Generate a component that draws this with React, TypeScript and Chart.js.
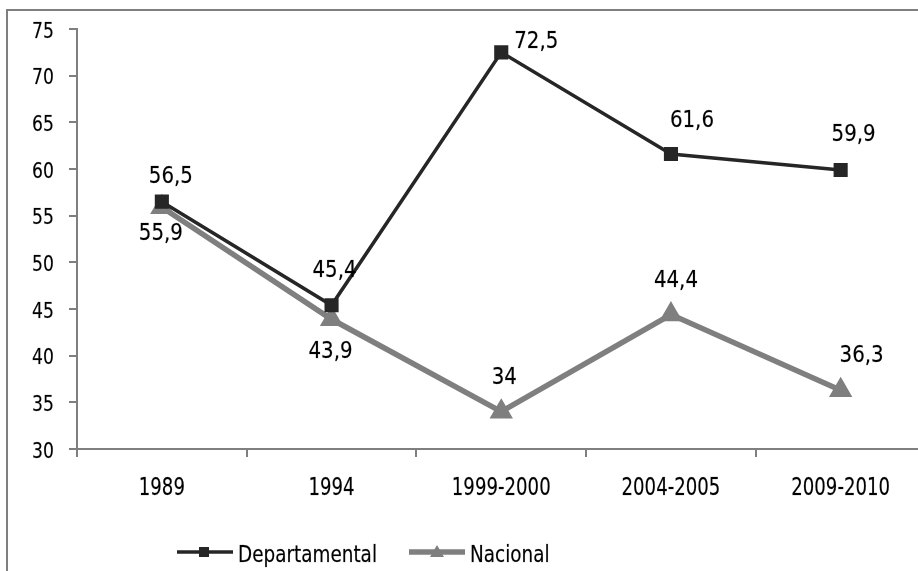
import React, { useEffect, useRef } from "react";
import { Chart, registerables } from "chart.js";

Chart.register(...registerables);

const categories = ["1989", "1994", "1999-2000", "2004-2005", "2009-2010"];
const departamental = [56.5, 45.4, 72.5, 61.6, 59.9];
const nacional = [55.9, 43.9, 34, 44.4, 36.3];
const yTicks = [30, 35, 40, 45, 50, 55, 60, 65, 70, 75];

const DARK = "#262626";
const GRAY = "#7f7f7f";
const SANS = "'DejaVu Sans', sans-serif";

// label offsets (center) relative to each point (style, not data)
const labelOffsets: number[][][] = [
  [[9, -27], [3, -36], [35, -12], [21, -35], [13, -37]],
  [[-1, 25], [-1, 31], [3, -36], [5, -36], [21, -36]],
];

const fmt = (v: number) => String(v).replace(".", ",");

function squeezed(ctx: any, text: string, x: number, y: number, size: number, sx: number, align: string) {
  ctx.save();
  ctx.font = `${size}px ${SANS}`;
  ctx.fillStyle = "#000";
  ctx.strokeStyle = "rgba(0,0,0,0.35)";
  ctx.lineWidth = 0.5;
  ctx.textAlign = align;
  ctx.textBaseline = "alphabetic";
  ctx.translate(x, y);
  ctx.scale(sx, 1);
  ctx.fillText(text, 0, 0);
  ctx.strokeText(text, 0, 0);
  ctx.restore();
}

const textPlugin = {
  id: "textPlugin",
  afterDraw(chart: any) {
    const ctx = chart.ctx;
    // y tick labels
    const ys = chart.scales.y;
    ys.ticks.forEach((t: any) => {
      const py = ys.getPixelForValue(t.value);
      squeezed(ctx, String(t.value), ys.right - 23, py + 8.5, 21.5, 0.8, "right");
    });
    // x tick labels
    const xs = chart.scales.x;
    categories.forEach((c, i) => {
      const px = xs.getPixelForTick(i);
      squeezed(ctx, c, px, xs.top + 46, 24.5, 0.74, "center");
    });
    // value labels
    chart.data.datasets.forEach((ds: any, di: number) => {
      const meta = chart.getDatasetMeta(di);
      meta.data.forEach((pt: any, i: number) => {
        const off = labelOffsets[di][i];
        squeezed(ctx, fmt(ds.data[i]), pt.x + off[0], pt.y + off[1] + 8, 22.5, 0.88, "center");
      });
    });
    // legend
    const y = 552;
    const items = [
      { x: 177, style: "rect", w: 3.5 },
      { x: 409, style: "triangle", w: 5.5 },
    ];
    chart.data.datasets.forEach((ds: any, i: number) => {
      const it = items[i];
      ctx.save();
      ctx.strokeStyle = ds.borderColor;
      ctx.lineWidth = it.w;
      ctx.beginPath();
      ctx.moveTo(it.x, y);
      ctx.lineTo(it.x + 56, y);
      ctx.stroke();
      ctx.fillStyle = ds.borderColor;
      if (it.style === "rect") {
        ctx.fillRect(it.x + 22, y - 5, 10, 10);
      } else {
        ctx.beginPath();
        ctx.moveTo(it.x + 28, y - 7);
        ctx.lineTo(it.x + 35, y + 5);
        ctx.lineTo(it.x + 21, y + 5);
        ctx.closePath();
        ctx.fill();
      }
      ctx.restore();
      squeezed(ctx, ds.label, it.x + 61, y + 9.5, 23, 0.8, "left");
    });
  },
};

export default function App() {
  const ref = useRef<HTMLCanvasElement | null>(null);
  useEffect(() => {
    document.body.style.margin = "0";
    const canvas = ref.current!;
    const chart = new Chart(canvas, {
      type: "line",
      data: {
        labels: categories,
        datasets: [
          {
            label: "Departamental",
            data: departamental,
            borderColor: DARK,
            backgroundColor: DARK,
            borderWidth: 3.5,
            pointStyle: "rect",
            pointRadius: 7.5,
            pointHoverRadius: 7.5,
            tension: 0,
          },
          {
            label: "Nacional",
            data: nacional,
            borderColor: GRAY,
            backgroundColor: GRAY,
            borderWidth: 5.5,
            pointStyle: "triangle",
            pointRadius: 8,
            pointHoverRadius: 8,
            tension: 0,
          },
        ],
      },
      options: {
        responsive: false,
        animation: false,
        devicePixelRatio: 1,
        layout: { padding: { left: 0, right: 6, top: 29, bottom: 0 } },
        plugins: {
          legend: { display: false },
          tooltip: { enabled: false },
        },
        scales: {
          x: {
            offset: true,
            grid: {
              offset: true,
              drawOnChartArea: false,
              drawTicks: true,
              tickLength: 8,
              color: GRAY,
              lineWidth: 2,
            },
            border: { color: GRAY, width: 2 },
            ticks: { display: false },
            afterFit(scale: any) {
              scale.height = 122;
            },
          },
          y: {
            min: 30,
            max: 75,
            afterBuildTicks(scale: any) {
              scale.ticks = yTicks.map((v) => ({ value: v }));
            },
            grid: {
              drawOnChartArea: false,
              drawTicks: true,
              tickLength: 8,
              color: GRAY,
              lineWidth: 2,
            },
            border: { color: GRAY, width: 2 },
            ticks: { display: false },
            afterFit(scale: any) {
              scale.width = 77;
            },
          },
        },
      },
      plugins: [textPlugin],
    });
    return () => chart.destroy();
  }, []);

  return (
    <div style={{ position: "relative", width: 918, height: 571, overflow: "hidden", background: "#fff" }}>
      <div
        style={{
          position: "absolute",
          left: 6,
          top: 9,
          width: 1000,
          height: 1000,
          borderLeft: `2px solid ${GRAY}`,
          borderTop: `2px solid ${GRAY}`,
        }}
      />
      <canvas ref={ref} width={939} height={571} style={{ position: "absolute", left: 0, top: 0, display: "block" }} />
    </div>
  );
}
